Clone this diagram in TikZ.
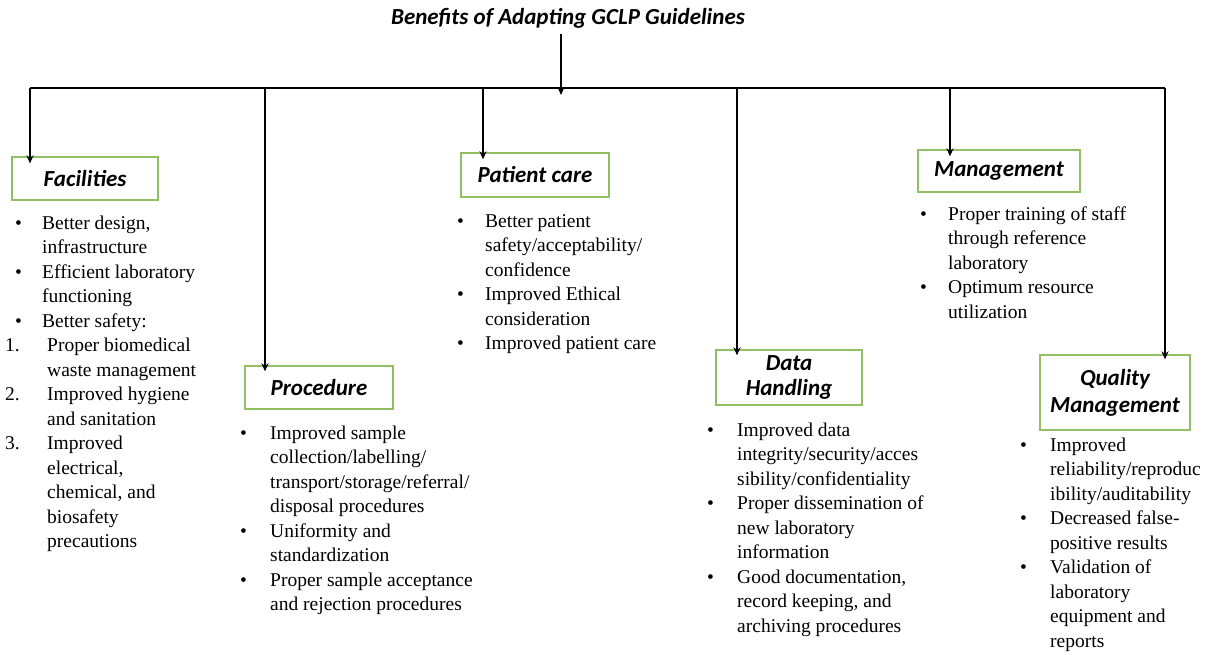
\documentclass[tikz,border=0pt]{standalone}
\usepackage{fontspec}
\setmainfont{Liberation Serif}
\newfontfamily\calib{Carlito}
\usetikzlibrary{arrows.meta}
\definecolor{boxgreen}{RGB}{146,190,100}
\tikzset{
  conn/.style={line width=1.8pt, draw=black},
  arr/.style={conn, -{Stealth[length=8pt,width=7pt]}},
  catbox/.style={draw=boxgreen, line width=1.3pt, fill=white, inner sep=0pt,
    font=\calib\bfseries\itshape\fontsize{23}{27}\selectfont, align=center},
  blist/.style={anchor=north west, inner sep=0pt, font=\rmfamily\fontsize{19.5}{24.5}\selectfont},
}
\newcommand{\bl}{\textbullet}
\begin{document}
\begin{tikzpicture}[x=1pt,y=-1pt]
\useasboundingbox (0,0) rectangle (1211,655);
% title
\node[font=\calib\bfseries\itshape\fontsize{23}{26}\selectfont] (title) at (568,18) {Benefits of Adapting GCLP Guidelines};
% horizontal bus
\coordinate (hl) at (30,88);
\coordinate (hr) at (1165,88);
\coordinate (hm) at (561,88);
\coordinate (hp) at (265,88);
\coordinate (hc) at (483,88);
\coordinate (hd) at (737,88);
\coordinate (hg) at (950,88);
\draw[conn] (hl) -- (hr);
\draw[arr] ([yshift=-2pt]title.south -| hm) -- ([yshift=-7pt]hm);
% boxes
\node[catbox, minimum width=146pt, minimum height=43pt] (fac) at (85,178.5) {Facilities};
\node[catbox, minimum width=148pt, minimum height=44pt] (pat) at (535,175) {Patient care};
\node[catbox, minimum width=162pt, minimum height=42pt] (man) at (999,171) {Management};
\node[catbox, minimum width=148pt, minimum height=43pt] (pro) at (319,387.5) {Procedure};
\node[catbox, minimum width=146pt, minimum height=55pt] (dat) at (789,377.5) {Data\\[-2pt]Handling};
\node[catbox, minimum width=150pt, minimum height=75pt] (qua) at (1115,392.5) {Quality\\[0pt]Management};
% drops
\draw[arr] (hl) -- ([yshift=-7pt]fac.north -| hl);
\draw[arr] (hp) -- ([yshift=-6pt]pro.north -| hp);
\draw[arr] (hc) -- ([yshift=-7pt]pat.north -| hc);
\draw[arr] (hd) -- ([yshift=-6pt]dat.north -| hd);
\draw[arr] (hg) -- ([yshift=-7pt]man.north -| hg);
\draw[arr] (hr) -- ([yshift=-5pt]qua.north -| hr);
% lists
\node[blist] (facl) at (15,212) {\begin{tabular}{@{}p{27pt}@{}l@{}}
\bl & Better design,\\
 & infrastructure\\
\bl & Efficient laboratory\\
 & functioning\\
\bl & Better safety:\\
\hspace*{-10pt}1. & \hspace*{5pt}Proper biomedical\\
 & \hspace*{5pt}waste management\\
\hspace*{-10pt}2. & \hspace*{5pt}Improved hygiene\\
 & \hspace*{5pt}and sanitation\\
\hspace*{-10pt}3. & \hspace*{5pt}Improved\\
 & \hspace*{5pt}electrical,\\
 & \hspace*{5pt}chemical, and\\
 & \hspace*{5pt}biosafety\\
 & \hspace*{5pt}precautions
\end{tabular}};
\node[blist] (patl) at (457,210) {\begin{tabular}{@{}p{28pt}@{}l@{}}
\bl & Better patient\\
 & safety/acceptability/\\
 & confidence\\
\bl & Improved Ethical\\
 & consideration\\
\bl & Improved patient care
\end{tabular}};
\node[blist] (manl) at (920,203) {\begin{tabular}{@{}p{28pt}@{}l@{}}
\bl & Proper training of staff\\
 & through reference\\
 & laboratory\\
\bl & Optimum resource\\
 & utilization
\end{tabular}};
\node[blist] (prol) at (240,422) {\begin{tabular}{@{}p{30pt}@{}l@{}}
\bl & Improved sample\\
 & collection/labelling/\\
 & transport/storage/referral/\\
 & disposal procedures\\
\bl & Uniformity and\\
 & standardization\\
\bl & Proper sample acceptance\\
 & and rejection procedures
\end{tabular}};
\node[blist] (datl) at (707,419) {\begin{tabular}{@{}p{30pt}@{}l@{}}
\bl & Improved data\\
 & integrity/security/acces\\
 & sibility/confidentiality\\
\bl & Proper dissemination of\\
 & new laboratory\\
 & information\\
\bl & Good documentation,\\
 & record keeping, and\\
 & archiving procedures
\end{tabular}};
\node[blist] (qual) at (1020,434) {\begin{tabular}{@{}p{30pt}@{}l@{}}
\bl & Improved\\
 & reliability/reproduc\\
 & ibility/auditability\\
\bl & Decreased false-\\
 & positive results\\
\bl & Validation of\\
 & laboratory\\
 & equipment and\\
 & reports
\end{tabular}};
\end{tikzpicture}
\end{document}
